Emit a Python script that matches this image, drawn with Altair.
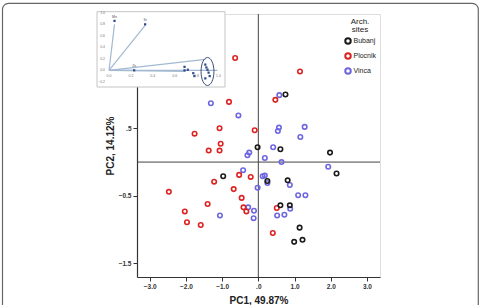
import altair as alt
import pandas as pd

# ---- PCA scores by archaeological site ----
sites = ["Bubanj", "Plocnik", "Vinca"]
site_colors = ["#1a1a1a", "#dd2222", "#6e66e0"]

bubanj_pc1 = [0.75, -0.02, 0.61, 1.98, 2.16, -0.97, 0.25, 0.81, 0.61, 0.87, 1.14, 1.22, 0.99]
bubanj_pc2 = [1.00, 0.22, 0.19, 0.14, -0.17, -0.21, -0.28, -0.27, -0.64, -0.64, -0.97, -1.15, -1.18]

plocnik_pc1 = [-0.64, 1.15, -0.81, 0.47, -1.07, -0.10, -1.76, -1.04, -1.37, -1.07, -0.53, -0.21,
               -1.22, -0.68, -0.46, -2.47, -1.40, -0.41, -0.33, 0.51, -2.03, -1.97, -1.59, 0.40]
plocnik_pc2 = [1.54, 1.34, 0.89, 0.92, 0.50, 0.47, 0.42, 0.27, 0.17, 0.17, -0.19, -0.22,
               -0.29, -0.40, -0.53, -0.44, -0.62, -0.67, -0.73, -0.68, -0.73, -0.89, -0.93, -1.05]

vinca_pc1 = [0.58, -1.31, -0.55, 0.57, 1.28, 0.54, 1.16, 0.41, -0.25, -0.30, 0.18, 0.64, 1.93, -0.42,
             0.18, 0.12, 0.25, 0.87, -0.02, 1.10, 1.30, -0.28, 0.88, -0.12, -1.06, -0.13, 0.52, 0.72]
vinca_pc2 = [0.99, 0.87, 0.69, 0.51, 0.52, 0.46, 0.37, 0.22, 0.14, 0.10, 0.06, 0.00, -0.07, -0.12,
             -0.20, -0.21, -0.31, -0.34, -0.38, -0.49, -0.49, -0.67, -0.69, -0.72, -0.79, -0.83, -0.79, -0.78]

x_ticks = [-3, -2, -1, 0, 1, 2, 3]
y_ticks = [1.5, 0.5, -0.5, -1.5]

# ---- component loadings (inset) ----
load_x = [0.05, 0.33, 0.23, 0.69, 0.69, 0.72, 0.77, 0.78, 0.88, 0.90, 0.91, 0.88, 0.92, 0.89]
load_y = [0.86, 0.80, 0.00, 0.06, 0.00, 0.01, -0.05, -0.10, 0.10, 0.01, -0.04, -0.14, -0.10, 0.05]
load_names = ["Mn", "Sr", "Zn"]
vec_x = [0.05, 0.33, 0.23, 0.88, 0.70, 0.99]
vec_y = [0.80, 0.78, 0.00, 0.19, -0.02, 0.00]
group_x = [0.90]
group_y = [-0.02]
inset_x_ticks = [0.0, 0.2, 0.4, 0.6, 0.8, 1.0]
inset_y_ticks = [1.0, 0.8, 0.6, 0.4, 0.2, 0.0, -0.2]

FONT = "Liberation Sans"
W, H = 243, 263

rows = []
for name, xs, ys in [("Vinca", vinca_pc1, vinca_pc2),
                     ("Plocnik", plocnik_pc1, plocnik_pc2),
                     ("Bubanj", bubanj_pc1, bubanj_pc2)]:
    for a, b in zip(xs, ys):
        rows.append({"site": name, "pc1": a, "pc2": b})
scores = pd.DataFrame(rows)

spss_fmt = "replace(format(datum.value, '.1f'), regexp('^(-?)0[.]'), '$1.')"

axis_style = dict(
    grid=False, domainColor="#333", domainWidth=1.2, tickColor="#333", tickSize=4,
    labelFont=FONT, labelFontSize=6.5, labelFontWeight="bold", labelColor="#333", labelPadding=2,
    titleFont=FONT, titleFontSize=10, titleFontWeight="bold", titleColor="#222",
    labelExpr=spss_fmt,
)

xs_main = alt.Scale(domain=[-3.35, 3.36], nice=False, zero=False)
ys_main = alt.Scale(domain=[-1.70, 2.19], nice=False, zero=False)

zero = pd.DataFrame({"v": [0]})
hline = alt.Chart(zero).mark_rule(color="#444", strokeWidth=1).encode(
    y=alt.Y("v:Q", scale=ys_main))
vline = alt.Chart(zero).mark_rule(color="#444", strokeWidth=1).encode(
    x=alt.X("v:Q", scale=xs_main))

points = alt.Chart(scores).mark_point(
    shape="circle", filled=False, size=20, strokeWidth=1.6, opacity=1
).encode(
    x=alt.X("pc1:Q", scale=xs_main, title="PC1, 49.87%",
            axis=alt.Axis(values=x_ticks, titlePadding=6, **axis_style)),
    y=alt.Y("pc2:Q", scale=ys_main, title="PC2, 14.12%",
            axis=alt.Axis(values=y_ticks, titlePadding=3, **axis_style)),
    color=alt.Color("site:N", scale=alt.Scale(domain=sites, range=site_colors),
                    legend=alt.Legend(title=["Arch.", "sites"], orient="none",
                                      legendX=207, legendY=4, padding=0,
                                      titleAnchor="middle", titleAlign="center",
                                      titleFont=FONT, titleFontSize=8, titleFontWeight="normal",
                                      titleColor="#222", titleLineHeight=8, titlePadding=3,
                                      labelFont=FONT, labelFontSize=7, labelColor="#222",
                                      labelOffset=1.5, rowPadding=1,
                                      symbolType="circle", symbolSize=30, symbolStrokeWidth=2)),
)

main = alt.layer(hline, vline, points)

# ---- inset loading plot ----
ixs = alt.Scale(domain=[-0.11, 1.06], range=[-40, 88], nice=False, zero=False)
iys = alt.Scale(domain=[-0.29, 1.02], range=[73, -2.3], nice=False, zero=False)

one = pd.DataFrame({"k": [0]})
inset_box = alt.Chart(one).mark_rect(fill="white", stroke="#c4c4c4", strokeWidth=1).encode(
    x=alt.value(-40), x2=alt.value(88), y=alt.value(-2.3), y2=alt.value(73))

vecs = pd.DataFrame({"x0": 0.0, "y0": 0.0, "vx": vec_x, "vy": vec_y})
vectors = alt.Chart(vecs).mark_rule(color="#a3b9d2", strokeWidth=1.2).encode(
    x=alt.X("x0:Q", scale=ixs, axis=None), y=alt.Y("y0:Q", scale=iys, axis=None),
    x2="vx:Q", y2="vy:Q")

loads = pd.DataFrame({"lx": load_x, "ly": load_y})
load_pts = alt.Chart(loads).mark_square(size=5, color="#2f4a8a", opacity=1).encode(
    x=alt.X("lx:Q", scale=ixs, axis=None), y=alt.Y("ly:Q", scale=iys, axis=None))

named = pd.DataFrame({"lx": load_x[:3], "ly": load_y[:3], "name": load_names})
load_lbl = alt.Chart(named).mark_text(font=FONT, fontSize=3.5, color="#555", dy=-4).encode(
    x=alt.X("lx:Q", scale=ixs, axis=None), y=alt.Y("ly:Q", scale=iys, axis=None), text="name:N")

grp = pd.DataFrame({"gx": group_x, "gy": group_y})
ellipse = alt.Chart(grp).mark_point(
    shape="M -0.46 0 A 0.46 1 0 1 0 0.46 0 A 0.46 1 0 1 0 -0.46 0 Z",
    size=784, filled=False, stroke="#3a4f7a", strokeWidth=1, opacity=1
).encode(x=alt.X("gx:Q", scale=ixs, axis=None), y=alt.Y("gy:Q", scale=iys, axis=None))

ixt = pd.DataFrame({"t": inset_x_ticks, "z": 0.0})
ix_lbl = alt.Chart(ixt).mark_text(font=FONT, fontSize=3.5, color="#777", dy=6).encode(
    x=alt.X("t:Q", scale=ixs, axis=None), y=alt.Y("z:Q", scale=iys, axis=None),
    text=alt.Text("t:Q", format=".1f"))

iyt = pd.DataFrame({"t": inset_y_ticks, "z": 0.0})
iy_lbl = alt.Chart(iyt).mark_text(font=FONT, fontSize=3.5, color="#777", align="right", dx=-4).encode(
    x=alt.X("z:Q", scale=ixs, axis=None), y=alt.Y("t:Q", scale=iys, axis=None),
    text=alt.Text("t:Q", format=".1f"))

inset = alt.layer(inset_box, vectors, load_pts, load_lbl, ellipse, ix_lbl, iy_lbl)

# ---- rounded figure frame ----
frame = alt.Chart(one).mark_rect(fill=None, stroke="#666", strokeWidth=1.2, cornerRadius=6).encode(
    x=alt.value(-134.5), x2=alt.value(341.3), y=alt.value(-10.7), y2=alt.value(320))

chart = alt.layer(main, inset, frame).resolve_scale(
    x="independent", y="independent"
).properties(
    width=W, height=H, autosize="none",
    padding={"left": 137, "top": 14, "right": 100, "bottom": 28},
).configure_view(
    stroke="#9a9a9a", strokeWidth=1.5
).configure(background="white")

chart.save("out.html", embed_options={"renderer": "svg", "actions": False})
